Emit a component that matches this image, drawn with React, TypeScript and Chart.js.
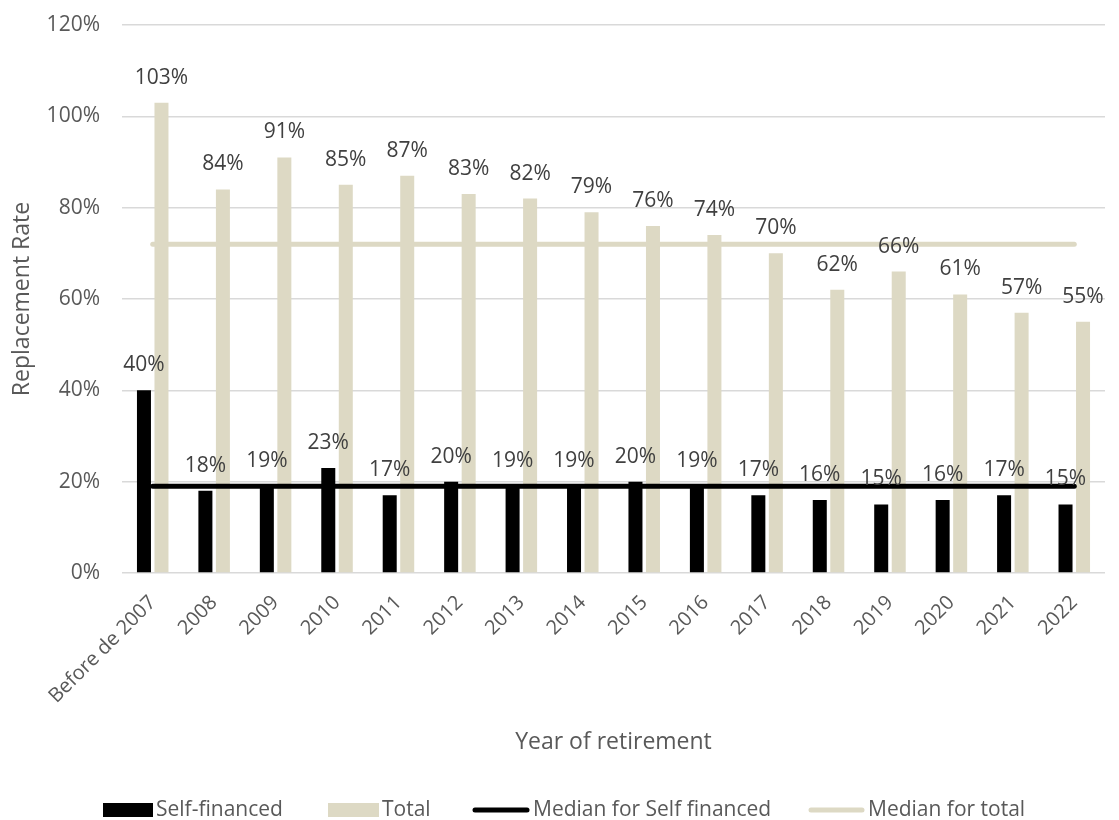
import React, { useEffect, useRef } from "react";
import { Chart, registerables } from "chart.js";

Chart.register(...registerables);

const categories = [
  "Before de 2007", "2008", "2009", "2010", "2011", "2012", "2013", "2014",
  "2015", "2016", "2017", "2018", "2019", "2020", "2021", "2022",
];
const selfFinanced = [40, 18, 19, 23, 17, 20, 19, 19, 20, 19, 17, 16, 15, 16, 17, 15];
const total = [103, 84, 91, 85, 87, 83, 82, 79, 76, 74, 70, 62, 66, 61, 57, 55];
const medianSelf = [19, 19, 19, 19, 19, 19, 19, 19, 19, 19, 19, 19, 19, 19, 19, 19];
const medianTotal = [72, 72, 72, 72, 72, 72, 72, 72, 72, 72, 72, 72, 72, 72, 72, 72];
const yTicks = [0, 20, 40, 60, 80, 100, 120];

const BEIGE = "#DDD9C4";
const FONT = "'Open Sans', sans-serif";
const TEXT = "#595959";
const LABEL = "#404040";

const labelPlugin = {
  id: "barLabels",
  afterDatasetsDraw(chart: any) {
    const ctx = chart.ctx;
    ctx.save();
    ctx.font = `21px ${FONT}`;
    ctx.fillStyle = LABEL;
    ctx.textAlign = "center";
    ctx.textBaseline = "middle";
    [0, 1].forEach((di) => {
      const meta = chart.getDatasetMeta(di);
      const data = chart.data.datasets[di].data as number[];
      meta.data.forEach((el: any, i: number) => {
        ctx.fillText(`${Math.round(data[i])}%`, el.x, el.y - 25);
      });
    });
    ctx.restore();
  },
};

const legendPlugin = {
  id: "customLegend",
  afterDraw(chart: any) {
    const ctx = chart.ctx;
    const y = 810;
    ctx.save();
    ctx.font = `21px ${FONT}`;
    ctx.textBaseline = "middle";
    ctx.textAlign = "left";
    const items = [
      { type: "rect", color: "#000", x0: 103, x1: 153, label: "Self-financed" },
      { type: "rect", color: BEIGE, x0: 328, x1: 379, label: "Total" },
      { type: "line", color: "#000", x0: 472, x1: 530, label: "Median for Self financed" },
      { type: "line", color: BEIGE, x0: 808, x1: 865, label: "Median for total" },
    ];
    items.forEach((it) => {
      if (it.type === "rect") {
        ctx.fillStyle = it.color;
        ctx.fillRect(it.x0, y - 7, it.x1 - it.x0, 14);
      } else {
        ctx.strokeStyle = it.color;
        ctx.lineWidth = 5;
        ctx.lineCap = "round";
        ctx.beginPath();
        ctx.moveTo(it.x0 + 3, y);
        ctx.lineTo(it.x1 - 3, y);
        ctx.stroke();
      }
      ctx.fillStyle = TEXT;
      ctx.fillText(it.label, it.x1 + 3, y);
    });
    ctx.restore();
  },
};

export default function App() {
  const ref = useRef<HTMLCanvasElement>(null);
  useEffect(() => {
    if (!ref.current) return;
    const chart = new Chart(ref.current, {
      type: "bar",
      data: {
        labels: categories,
        datasets: [
          {
            type: "bar",
            label: "Self-financed",
            data: selfFinanced,
            backgroundColor: "#000000",
            barPercentage: 0.8,
            categoryPercentage: 0.57,
            order: 2,
          },
          {
            type: "bar",
            label: "Total",
            data: total,
            backgroundColor: BEIGE,
            barPercentage: 0.8,
            categoryPercentage: 0.57,
            order: 2,
          },
          {
            type: "line",
            label: "Median for Self financed",
            data: medianSelf,
            borderColor: "#000000",
            borderWidth: 5,
            borderCapStyle: "round",
            pointRadius: 0,
            fill: false,
            order: 1,
          },
          {
            type: "line",
            label: "Median for total",
            data: medianTotal,
            borderColor: BEIGE,
            borderWidth: 5,
            borderCapStyle: "round",
            pointRadius: 0,
            fill: false,
            order: 1,
          },
        ] as any,
      },
      options: {
        animation: false,
        responsive: false,
        maintainAspectRatio: false,
        layout: { padding: { top: 25, right: 14, bottom: 47, left: 0 } },
        plugins: {
          legend: { display: false },
          tooltip: { enabled: false },
        },
        scales: {
          x: {
            grid: { display: false },
            border: { display: false },
            ticks: {
              color: TEXT,
              font: { family: FONT, size: 20 },
              minRotation: 45,
              maxRotation: 45,
              padding: 10,
            },
            title: {
              display: true,
              text: "Year of retirement",
              color: TEXT,
              font: { family: FONT, size: 23 },
              padding: { top: 0, bottom: 17 },
            },
            afterFit(scale: any) {
              scale.height = 200;
              scale.paddingLeft = 0;
              scale.paddingRight = 0;
            },
          },
          y: {
            min: 0,
            max: 120,
            afterBuildTicks(scale: any) {
              scale.ticks = yTicks.map((v) => ({ value: v }));
            },
            grid: { color: "#D9D9D9", lineWidth: 1.5, drawTicks: false },
            border: { display: false },
            ticks: {
              color: TEXT,
              font: { family: FONT, size: 21 },
              padding: 22,
              callback: (v: any) => `${v}%`,
            },
            title: {
              display: true,
              text: "Replacement Rate",
              color: TEXT,
              font: { family: FONT, size: 23 },
              padding: { top: 9, bottom: 0 },
            },
            afterFit(scale: any) {
              scale.width = 122;
              scale.paddingTop = 0;
              scale.paddingBottom = 0;
            },
          },
        },
      },
      plugins: [labelPlugin, legendPlugin],
    });
    return () => chart.destroy();
  }, []);
  return (
    <div style={{ position: "fixed", left: 0, top: 0, width: 1119, height: 820 }}>
      <canvas ref={ref} width={1119} height={820} style={{ display: "block" }} />
    </div>
  );
}
